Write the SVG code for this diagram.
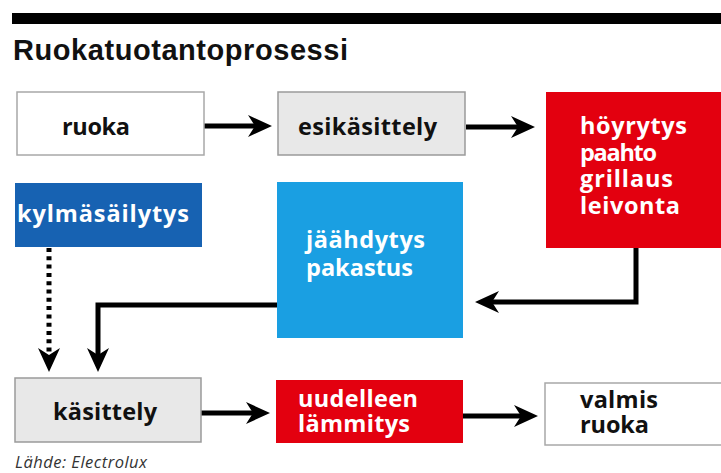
<svg xmlns="http://www.w3.org/2000/svg" width="721" height="473" viewBox="0 0 721 473">
<defs>
<style>
.bx{font-family:"Open Sans","Liberation Sans",sans-serif;font-weight:700;font-size:23.5px}
.dk{fill:#111}
.wt{fill:#fff}
.light{fill:#fff;stroke:#a8a8a8;stroke-width:1.5}
.grey{fill:#e8e8e8;stroke:#9a9a9a;stroke-width:1.5}
.red{fill:#e3000f}
.dblue{fill:#1762b2}
.lblue{fill:#1a9fe2}
.con{fill:none;stroke:#000;stroke-width:5;marker-end:url(#ah)}
</style>
<marker id="ah" markerUnits="userSpaceOnUse" markerWidth="26" markerHeight="24" refX="7" refY="11" orient="auto">
<path d="M0,0 L24,11 L0,22 L7,11 z" fill="#000"/>
</marker>
</defs>
<rect width="721" height="473" fill="#fff"/>
<rect x="12" y="13" width="709" height="11" fill="#000"/>
<text x="13" y="60" font-family="Liberation Sans, Arial, sans-serif" font-weight="700" font-size="29" fill="#111" textLength="335">Ruokatuotantoprosessi</text>

<g id="connectors">
<line class="con" x1="204" y1="126" x2="255" y2="126"/>
<line class="con" x1="466" y1="127" x2="518" y2="127"/>
<path class="con" d="M636,248 V302 H492"/>
<path class="con" d="M277,305 H98 V355"/>
<path class="con" stroke-dasharray="4 4.3" d="M49,248 V355"/>
<line class="con" x1="201" y1="413" x2="253" y2="413"/>
<line class="con" x1="463" y1="416" x2="521" y2="416"/>
</g>

<g id="ruoka">
<rect class="light" x="17" y="92" width="187" height="63"/>
<text class="bx dk" x="62" y="135" textLength="68">ruoka</text>
</g>
<g id="esikasittely">
<rect class="grey" x="278" y="92" width="187" height="63"/>
<text class="bx dk" x="298" y="135" textLength="139">esikäsittely</text>
</g>
<g id="hoyrytys">
<rect class="red" x="546" y="92" width="176" height="156"/>
<text class="bx wt" x="580" y="134" textLength="107">höyrytys</text>
<text class="bx wt" x="580" y="161" textLength="77">paahto</text>
<text class="bx wt" x="580" y="187" textLength="93">grillaus</text>
<text class="bx wt" x="580" y="214" textLength="100">leivonta</text>
</g>
<g id="kylmasailytys">
<rect class="dblue" x="15" y="183" width="187" height="64"/>
<text class="bx wt" x="17" y="222" textLength="172">kylmäsäilytys</text>
</g>
<g id="jaahdytys">
<rect class="lblue" x="277" y="182" width="186" height="156"/>
<text class="bx wt" x="306" y="248" textLength="119">jäähdytys</text>
<text class="bx wt" x="306" y="276" textLength="107">pakastus</text>
</g>
<g id="kasittely">
<rect class="grey" x="15" y="378" width="186" height="64"/>
<text class="bx dk" x="53" y="420" textLength="104">käsittely</text>
</g>
<g id="uudelleen">
<rect class="red" x="276" y="380" width="187" height="63"/>
<text class="bx wt" x="298" y="407" textLength="120">uudelleen</text>
<text class="bx wt" x="298" y="432" textLength="112">lämmitys</text>
</g>
<g id="valmis">
<rect class="light" x="545" y="383" width="177" height="62"/>
<text class="bx dk" x="580" y="408" textLength="78">valmis</text>
<text class="bx dk" x="580" y="433" textLength="69">ruoka</text>
</g>
<text x="15" y="468" font-family="Open Sans, Liberation Sans, sans-serif" font-style="italic" font-size="16.5" fill="#333" textLength="132">Lähde: Electrolux</text>
</svg>
